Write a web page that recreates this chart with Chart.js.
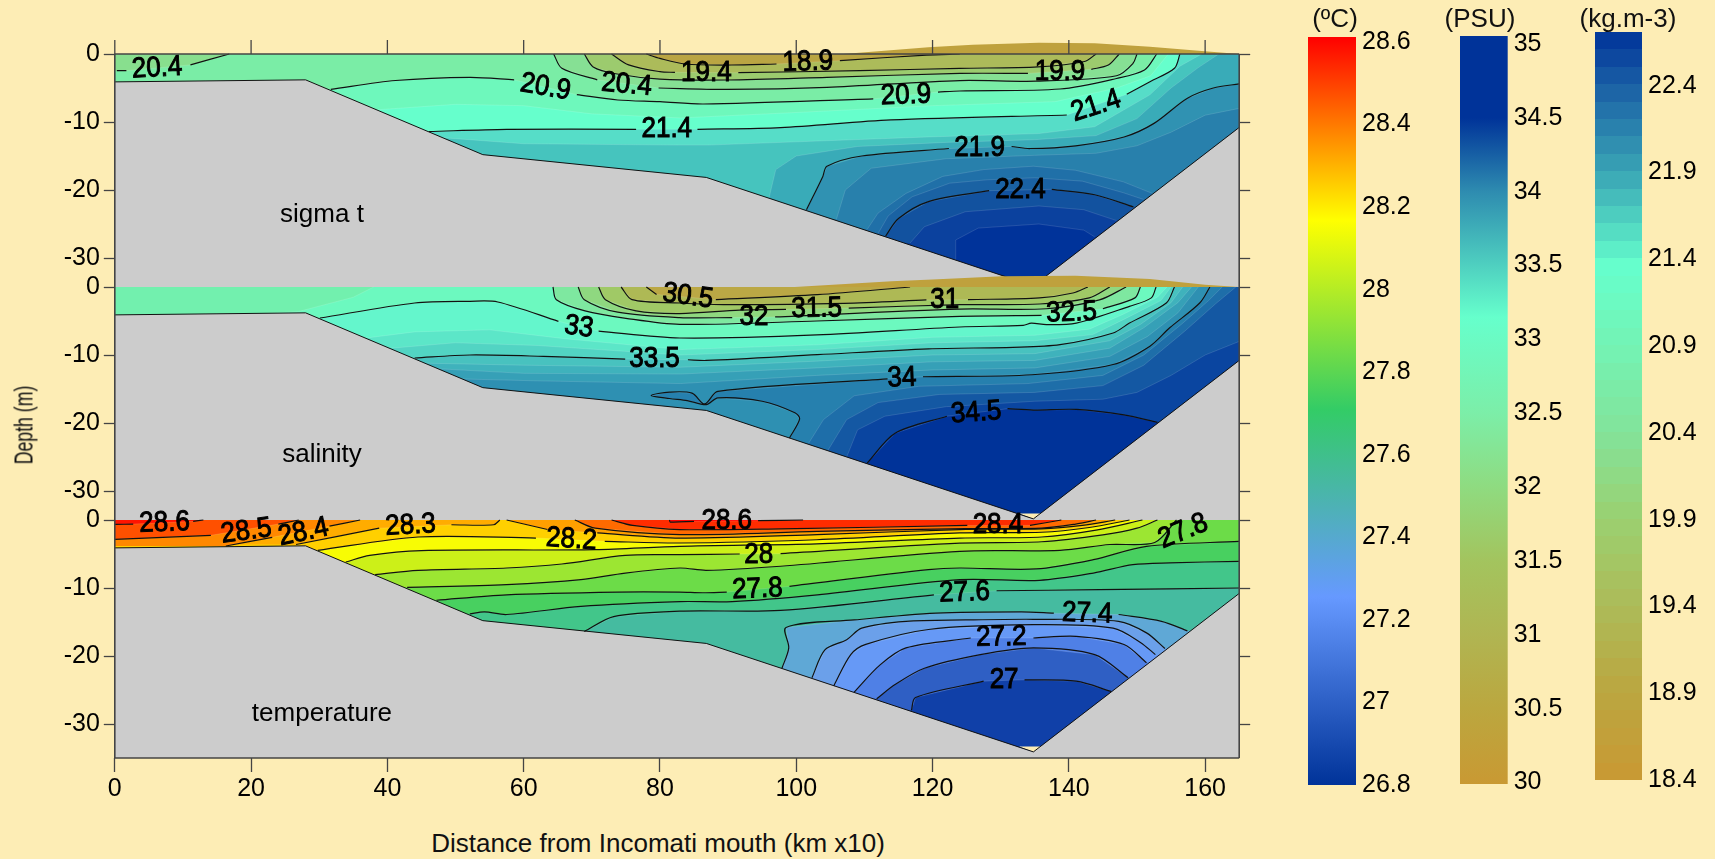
<!DOCTYPE html>
<html>
<head>
<meta charset="utf-8">
<title>Incomati transect</title>
<script src="https://cdn.jsdelivr.net/npm/chart.js@4"></script>
<style>
  html, body { margin: 0; padding: 0; background: #FDEDB5; overflow: hidden; }
  #page { position: relative; width: 1715px; height: 859px; font-family: "Liberation Sans", Arial, sans-serif; color: #111; }
  canvas { position: absolute; left: 0; }
  .note { position: absolute; font-size: 26px; white-space: nowrap; transform: translate(-50%, -50%); }
</style>
</head>
<body>
<div id="page">
  <canvas id="sigmaPanel" width="1270" height="252" style="top:40px"></canvas>
  <canvas id="salPanel" width="1270" height="252" style="top:273px"></canvas>
  <canvas id="tempPanel" width="1270" height="320" style="top:506px"></canvas>
  <canvas id="tempBar" width="130" height="800" style="left:1308px;top:10px"></canvas>
  <canvas id="salBar" width="130" height="800" style="left:1460px;top:10px"></canvas>
  <canvas id="sigmaBar" width="130" height="800" style="left:1595px;top:10px"></canvas>
  <div class="note" style="left:1335px;top:18px">(ºC)</div>
  <div class="note" style="left:1480px;top:18px">(PSU)</div>
  <div class="note" style="left:1628px;top:18px">(kg.m-3)</div>
  <div class="note" style="left:24px;top:425px;transform:translate(-50%,-50%) rotate(-90deg) scaleX(.68)">Depth (m)</div>
  <div class="note" style="left:658px;top:843px">Distance from Incomati mouth (km x10)</div>
</div>
<script>
'use strict';

/* ============================================================
   AXES
   ============================================================ */
const xTicks = [0, 20, 40, 60, 80, 100, 120, 140, 160];
const depthTicks = [0, -10, -20, -30];
const tempBarTicks = [26.8, 27, 27.2, 27.4, 27.6, 27.8, 28, 28.2, 28.4, 28.6];
const salBarTicks = [30, 30.5, 31, 31.5, 32, 32.5, 33, 33.5, 34, 34.5, 35];
const sigmaBarTicks = [18.4, 18.9, 19.4, 19.9, 20.4, 20.9, 21.4, 21.9, 22.4];

/* sea bed, same for the three sections: [distance, depth] */
const seabed = [[0, -4.1], [28, -3.8], [54, -14.8], [86.8, -18.15], [134.8, -34.1], [165, -10.8]];
const voidTip = [[132.7, -33.3], [136, -33.3], [134.8, -34.1]];

/* ============================================================
   SIGMA T  -  isolines as [distance, depth], null = label gap
   ============================================================ */
const sig189 = [[78, 0], [80, -0.65], [83.7, -1.47], [90.5, -1.62], [97.1, -1.47], null, [106.4, -0.98], [119.1, -0.15], [124, 0]];
const sig194 = [[72.9, 0], [75.4, -1.6], [80, -2.6], [82.2, -2.7], null, [91.5, -2.75], [109.3, -2.45], [124, -2.1], [135.5, -1.9], [142.3, -1.1], [144, 0]];
const sig199 = [[68.9, 0], [70.2, -1.9], [73.5, -2.9], [80, -3.68], [89.8, -3.82], [104.5, -3.43], [124, -2.85], [134, -2.85], null, [143.3, -2.25], [145.8, -1.63], [147.4, 0]];
const sig204 = [[64.4, 0], [65.6, -2.1], [70.8, -3.8], null, [79.8, -5], [89.8, -5.2], [104.5, -4.9], [124, -3.9], [135.2, -4], [147, -3.2], [149.4, -1.4], [150, 0]];
const sig204Left = [[0.3, -2.45], [1.7, -2.45], null, [11.1, -1.6], [16.8, 0]];
const sig209 = [[31.7, -5.2], [41.2, -3.9], [52.1, -3.43], [58.6, -3.8], null, [67.8, -5.98], [73.8, -6.76], [80, -7], [86.4, -7.35], [111.3, -6.6], null, [120.8, -5.6], [124, -5.44], [138.7, -5.15], [147, -3.6], [151.1, -2.35], [152.9, 0]];
const sig214 = [[46.1, -11.4], [57.5, -11.08], [76.5, -11.08], null, [85.5, -11.08], [97.7, -10.83], [113.9, -9.7], [139.7, -8.97], null, [148.5, -5.93], [151.9, -4.07], [155.5, -2.1], [156.3, 0]];
const sig219 = [[101.5, -22.9], [103.9, -18], [104.5, -16.5], [109.6, -15], [122.4, -13.9], null, [131.6, -13.6], [134.3, -13.9], [141, -13.5], [148.1, -12.2], [152.5, -10.2], [157.4, -6.5], [161.2, -5], [165, -4.4]];
const sig224 = [[113.1, -26.8], [115, -24.2], [119.4, -21.7], [128.3, -20.1], null, [137.5, -19.9], [143.8, -20.7], [149.5, -22.5]];
/* band edges without a black line */
const sig2115 = [[38.5, -8.2], [50, -7.4], [60, -7.6], [70, -8.8], [83, -9.4], [100, -8.6], [120, -7.6], [138, -7], [147, -5], [152, -3.2], [154.6, 0]];
const sig2165 = [[48, -12.3], [60, -13.2], [82.9, -13.4], [87, -13.4], [119.4, -12.2], [135.6, -11.7], [143.8, -10.7], [151.9, -6], [156.3, -1.8], [159.5, 0]];
const sig2178 = [[96, -21.2], [97, -17], [100, -15], [109, -13.6], [122, -13], [135, -12.6], [144, -12], [150, -9.5], [155, -5], [159, -2], [162, 0]];
const sig2202 = [[105.9, -24.3], [107.2, -20], [111, -16.8], [122, -15.4], [135, -14.9], [144, -14.6], [150, -13.5], [155, -11.5], [160, -9], [165, -8]];
const sig2215 = [[110.4, -25.8], [112, -23.4], [116.1, -20.5], [121.5, -18], [127.5, -17], [134.8, -16.5], [141, -17.1], [148, -18.8], [152.5, -20.6]];
const sig2227 = [[112, -26.4], [113.5, -23.8], [117, -21], [122.5, -19], [128, -18.5], [135, -18.2], [142, -18.7], [148, -20.4], [151, -21.4]];
const sig2265 = [[116.7, -27.8], [118.8, -25.4], [124.8, -23.2], [135.6, -22.35], [142.2, -22.9], [147, -24.5]];
const sig229 = [[123.3, -30.3], [123.4, -27.35], [126.7, -25.6], [135.6, -25], [142.2, -25.9], [143.8, -26.9]];
const sigHump = [[106.9, 0], [119.4, 1], [125.9, 1.37], [135.6, 1.67], [143.8, 1.57], [151.9, 1.08], [159.5, 0.44], [165, 0]];
const sigLabels = [
  ['20.4', 6.2, -2.1, -3], ['20.9', 63.2, -4.9, 10], ['20.4', 75.1, -4.55, 5], ['19.4', 86.8, -2.85, 0],
  ['18.9', 101.7, -1.2, -2], ['19.9', 138.7, -2.6, 0], ['20.9', 116.1, -6.1, -2], ['21.4', 81, -11.1, 0],
  ['21.4', 144, -7.65, -18], ['21.9', 126.9, -13.9, 0], ['22.4', 132.9, -20, 0]
];

/* ============================================================
   SALINITY
   ============================================================ */
const sal305 = [[78, 0], [79.5, -1.1], null, [88.2, -1.86], [103.1, -1.13], [116.7, 0]];
const sal31 = [[74.3, 0], [75.9, -1.86], [82.9, -2.35], [90, -2.6], [107, -2.4], [119.1, -1.9], null, [125.2, -1.86], [135.7, -1.6], [140.6, -0.88], [142.8, 0]];
const sal315 = [[71, 0], [72, -1.86], [76.5, -3.5], [82.9, -3.9], [91.7, -3.4], [98.5, -3.3], null, [107.7, -3.1], [124, -2.6], [135.7, -2.5], [143, -1.6], [146, 0]];
const sal32 = [[68, 0], [68.9, -1.86], [73.8, -3.7], [82.9, -4.5], [90.6, -4.5], null, [96.9, -4.4], [124, -3.25], [136.7, -3.2], [144.5, -1.9], [148.4, 0]];
const sal325 = [[64.3, 0], [64.8, -1.86], [69, -3.5], [75, -4.6], [82.9, -5.5], [103, -5], [124, -4.31], [136, -4.17], null, [145, -3.2], [149.7, -1.6], [150.5, 0]];
const sal33 = [[30.1, -4.56], [44, -2.35], [52.1, -2.1], [56.2, -2.2], [65.1, -5.05], null, [71, -6.5], [82.9, -7.5], [103, -7.05], [124, -5.88], [133.3, -5.64], [134.5, -5.3], [136.7, -5.54], [141.1, -5.3], [148.9, -2.84], [152.1, -1.6], [152.8, 0]];
const sal335 = [[44, -10.44], [52.1, -10], [62.9, -10.2], [74.9, -10.6], null, [84.1, -10.7], [86.8, -10.8], [103.1, -9.95], [119.4, -9.1], [131.8, -8.87], [138.7, -8.48], [146.5, -6.76], [148.9, -5.3], [154.3, -2.35], [155.5, 0]];
const sal34 = [[99, -22.2], [100.5, -19.4], [99.8, -18.5], [95, -16.8], [88.5, -16.3], [86.8, -17.3], [84, -16.7], [81.4, -16.4], [78.7, -15.95], [81.4, -15.45], [84.7, -15.6], [86.55, -17.2], [88.5, -15.34], [113.4, -13.5], null, [118.6, -13.2], [134.6, -12.9], [146.5, -11.4], [151.9, -8.7], [154.8, -6], [159.2, -2.35], [160.7, 0]];
const sal345 = [[110.4, -25.9], [114.5, -21.5], [122.1, -19], null, [131, -17.9], [134.8, -18.1], [141.1, -18], [148.1, -18.8], [153, -19.9]];
/* band edges without a black line */
const sal3275 = [[5, -4.1], [15, -4.3], [27, -3.6], [35, -1.5], [38, 0]];
const sal3325 = [[36.9, -7.5], [44, -6.6], [55, -6.3], [66, -7.6], [83, -9.2], [103, -8.5], [120, -7.4], [135, -7.1], [143, -6.2], [148, -4], [153, -1.5], [154.4, 0]];
const sal3337 = [[40.5, -9], [50, -8.2], [62, -8.6], [83, -10], [103, -9.2], [120, -8.2], [135, -7.9], [143.5, -7], [148, -4.8], [153.5, -2], [155, 0]];
const sal3362 = [[45.5, -11.2], [60, -11.5], [83, -11.8], [103, -10.9], [120, -10], [135, -9.8], [146, -7.9], [150.5, -5.5], [155, -2.3], [156.7, 0]];
const sal3375 = [[47, -12], [60, -12.7], [83, -12.8], [103, -11.9], [120, -11], [135, -10.8], [146, -9], [151, -6], [156, -2.3], [158, 0]];
const sal3387 = [[50, -13.5], [62, -13.8], [83, -14.2], [103, -13], [120, -12.2], [135, -11.9], [146, -10.2], [151.5, -7.3], [156, -3.8], [159, 0]];
const sal3412 = [[101.8, -23], [104, -19.5], [108.5, -16], [118, -14.6], [134, -14.2], [145, -13], [151, -10], [156.5, -5.5], [160.5, -2], [162.5, 0]];
const sal3425 = [[104.6, -24.1], [107.4, -19.5], [112, -17], [121, -15.8], [135, -15.5], [145, -14.5], [151, -11.5], [157, -6.5], [161.5, -2.5], [164.5, 0]];
const sal3437 = [[107.4, -25], [109, -21], [113, -19], [122, -17.6], [135, -16.8], [145, -16.5], [150, -15.5], [155, -13], [160, -10], [165, -8]];
const salHump = [[99.8, 0], [114, 0.83], [120, 1.1], [130.2, 1.57], [141, 1.67], [151.9, 1.18], [160, 0.34], [165, 0]];
const salLabels = [
  ['33', 68.1, -5.9, 8], ['33.5', 79.2, -10.6, 0], ['30.5', 84.1, -1.4, 8], ['32', 93.8, -4.46, 0],
  ['31.5', 103, -3.2, -1], ['31', 121.8, -1.9, 0], ['32.5', 140.4, -3.8, -2], ['34', 115.5, -13.4, -2], ['34.5', 126.4, -18.5, -4]
];

/* ============================================================
   TEMPERATURE
   ============================================================ */
const temp286Left = [[0, -0.65], [2.7, -0.6], null, [11.5, -0.2], [13, 0]];
const temp285Left = [[0, -2.84], [14.1, -2.25], null, [24, -0.6], [27, 0]];
const temp284Left = [[16.3, -3.82], [23.1, -2.55], null, [31.5, -0.9], [36, 0]];
const temp283Left = [[26.6, -3.6], [38.8, -1.2], null, [49.4, -0.7], [55.6, -0.7], [56.5, 0]];
const temp286 = [[81.4, 0], [81.5, -0.3], [85, -0.2], null, [94.4, -0.1], [101, 0]];
const temp285 = [[72.9, 0], [76, -0.8], [82.9, -1.4], [97.7, -1.3], [125.1, -0.8], null, [134.3, -0.8], [138.9, 0]];
const temp284 = [[67.5, 0], [70.5, -1.2], [82.9, -2.15], [103.1, -1.67], [124.8, -1.27], [136, -1.2], [141, -0.6], [144, 0]];
const temp283 = [[57.5, 0], [63.5, -1.4], null, [70.8, -1.9], [82.9, -2.65], [103.1, -2.15], [124, -1.4], [136, -1.3], [142, -0.8], [146.8, 0]];
const temp282 = [[29.8, -4.46], [44.5, -2.5], [61.8, -2.65], null, [71.9, -3.14], [82.9, -3.38], [103, -2.9], [124, -1.9], [136, -1.8], [143, -1.1], [148.9, 0]];
const temp281 = [[33.9, -6.18], [37.4, -5.2], [45, -4.5], [70.5, -4.36], [82.9, -3.87], [103, -3.5], [124, -2.65], [136, -2.5], [144, -1.5], [150.8, 0]];
const temp280 = [[38.2, -8.04], [44.5, -7.4], [57.5, -7.06], [65.6, -6.47], [74.9, -5.2], [82.9, -5.1], [91.7, -5], null, [97.7, -4.95], [124, -3.4], [136, -3.2], [145, -2.2], [150, -1.2], [153, 0]];
const temp279 = [[42.9, -9.9], [57.5, -9.5], [68.4, -8.77], [74.9, -7.8], [82.9, -7.06], [86.8, -7.4], [97.7, -6.8], [124, -4.6], [138.7, -4.46], [146, -3.6], [152.6, -3.3], [155.8, 0]];
const temp278 = [[47.2, -11.8], [57.5, -11], [73.8, -10.6], [82.9, -10.6], [86.3, -10.7], [89.8, -10.6], null, [99, -9.75], [119.4, -7.3], [124, -7.06], [135.2, -7.2], [143.6, -5.83], [151.4, -3.87], [165, -3.14]];
const temp277 = [[52.1, -13.8], [54.25, -13.5], [57.5, -13.9], [68.4, -12.7], [82.9, -12], [90.6, -12], [103.1, -11], [124, -8.77], [135.7, -8.87], [143.6, -7.8], [149.4, -6.57], [154.8, -6.3], [165, -6.08]];
const temp276 = [[68.9, -16.4], [73.2, -14.2], [82.9, -13.4], [97.7, -13.3], [120.2, -11], null, [129.4, -10.4], [144.5, -10.25], [165, -10]];
const temp275 = [[97.9, -21.8], [98.9, -18.8], [98.5, -15.8], [108.5, -14.7], [120.5, -13.7], [133, -13.5], [137.8, -13.7], null, [147.3, -13.9], [153.6, -14.9], [157.4, -16.3]];
const temp274 = [[102.3, -23.2], [104.2, -19.1], [107.4, -17.6], [109.6, -15.9], [116.1, -14.9], [124.8, -14.7], [134.8, -14.6], [147.3, -14.9], [151.4, -16.6], [154.1, -18.9]];
const temp273 = [[105.5, -24.4], [108, -19.8], [110.2, -18.3], [119.4, -16.1], [134.8, -15.4], [146.5, -15.9], [150.5, -18], [152.7, -19.8]];
const temp272 = [[108.5, -25.3], [112.3, -21.3], [116.1, -18.8], [125.6, -17.35], null, [134.8, -17.35], [141.1, -17.1], [148.1, -18.3], [151.4, -21]];
const temp271 = [[111.8, -26.3], [114.5, -24.2], [118.8, -21.8], [127, -19.8], [134.8, -18.8], [143.8, -19.8], [148.7, -23.2]];
const temp270 = [[116.9, -28], [117.5, -26.1], [127.5, -23.7], null, [133.5, -23.5], [141.1, -23.7], [146.2, -25.2]];
const tempLabels = [
  ['28.6', 7.3, -0.45, -2], ['28.5', 19.3, -1.67, -8], ['28.4', 27.7, -1.8, -12], ['28.3', 43.4, -0.8, -3],
  ['28.2', 67, -2.9, 4], ['28.6', 89.8, -0.1, 0], ['28.4', 129.6, -0.8, 0], ['28', 94.5, -5.1, 0],
  ['27.8', 94.3, -10.2, -2], ['27.6', 124.7, -10.7, -2], ['27.4', 142.7, -13.8, 2], ['27.2', 130.1, -17.25, -1],
  ['27', 130.5, -23.6, 0], ['27.8', 156.8, -1.67, -22]
];

/* ============================================================
   COLOURS  -  painted from the bottom of the section upward
   ============================================================ */
const sigmaFills = [sig229, sig2265, sig224, sig2227, sig2215, sig2202, sig219, sig2178, sig2165, sig214, sig2115, sig209, sig204, sig204Left, sig199, sig194, sig189];
const sigmaColours = ['#0B419E', '#12529F', '#1A62A3', '#2070A8', '#2880AC', '#3092B2', '#39ABB8', '#46C4BE', '#56DDC8', '#66FFCC', '#6EF8BC', '#7AEDA6', '#86E094', '#88DF8E', '#9CCB6E', '#ACBB5A', '#BAA543'];
const sigmaBase = '#00339A';

const salFills = [sal345, sal3437, sal3425, sal3412, sal34, sal3387, sal3375, sal3362, sal335, sal3337, sal3325, sal33, sal3275, sal325, sal32, sal315, sal31, sal305];
const salColours = ['#0A45A0', '#1458A3', '#1E6EA9', '#2680AE', '#2E90B2', '#36A0B7', '#3FB2BC', '#48C2BF', '#52D4C3', '#5CE6C8', '#64F6CC', '#6CF9BF', '#72F0AE', '#7EE8A0', '#8FD880', '#A0C966', '#AEB955', '#BBA845'];
const salBase = '#003399';

const tempFills = [temp270, temp271, temp272, temp273, temp274, temp275, temp276, temp277, temp278, temp279, temp280, temp281, temp282, temp283Left, temp284Left, temp285Left, temp286Left, temp283, temp284, temp285, temp286];
const tempColours = ['#2F5FC4', '#4F80E6', '#6699F6', '#6BA0EA', '#5FA8D6', '#45BBA0', '#42C68A', '#48D060', '#6CDC48', '#9CE632', '#CCF018', '#F8FC04', '#FFD000', '#FFAC00', '#FF8800', '#FF5000', '#FF1400', '#FFA000', '#FF6A00', '#FF2C00', '#FF0000'];
const tempBase = '#1040A8';

const tempStops = [[26.8, '#003399'], [27.256, '#6699FF'], [27.71, '#33CC66'], [28.168, '#FFFF00'], [28.612, '#FF0000']];
const salStops = [[29.99, '#C99933'], [30.5, '#BBA73F'], [31, '#B0B552'], [31.5, '#A3C45E'], [32, '#8FDB80'], [32.5, '#7CEEA8'], [33.15, '#66FFCC'], [33.5, '#4FD0C0'], [34, '#2E8CB0'], [34.5, '#003399'], [35.054, '#003399']];
const sigmaStops = [[18.4, '#C99933'], [18.9, '#BBA640'], [19.4, '#ADBB58'], [19.9, '#9BD070'], [20.4, '#83E39A'], [20.9, '#74F3B4'], [21.35, '#66FFCC'], [21.9, '#3AA5B5'], [22.4, '#1A5FA5'], [22.709, '#003399']];

/* ============================================================
   HELPERS
   ============================================================ */
const AXIS_COLOUR = '#444';
const BAND_EDGE = 'rgba(255,255,255,0.16)';
const FONT = 'Liberation Sans';
const panelBox = [[0, 0], [165, 0], [165, -35], [0, -35]];

function toPoints(line) {
  return line.map(function (p) {
    return p ? { x: p[0], y: p[1] } : { x: 0, y: null };
  });
}

/* Close an isoline with everything that lies above it, up to the surface */
function aboveLine(line) {
  const p = line.filter(Boolean);
  return [[-5, p[0][1]]].concat(p, [[170, p[p.length - 1][1]], [170, 0], [-5, 0]]);
}

function shape(points, colour) {
  return { data: toPoints(points), fill: 'shape', backgroundColor: colour, borderWidth: 0, pointRadius: 0, tension: 0 };
}

function stroke(points, colour, width, tension) {
  return { data: toPoints(points), fill: false, borderColor: colour, borderWidth: width, pointRadius: 0, tension: tension };
}

/* Text written at data coordinates, optionally rotated and drawn heavier */
function textPlugin(items, font, heavy, stretch) {
  return {
    id: 'textOnScales',
    afterDatasetsDraw: function (chart) {
      const ctx = chart.ctx;
      items.forEach(function (it) {
        ctx.save();
        ctx.translate(chart.scales.x.getPixelForValue(it[1]), chart.scales.y.getPixelForValue(it[2]));
        ctx.rotate((it[3] || 0) * Math.PI / 180);
        ctx.scale(1, stretch);
        ctx.font = font;
        ctx.fillStyle = '#000';
        ctx.textAlign = 'center';
        ctx.textBaseline = 'middle';
        ctx.fillText(it[0], 0, 0);
        if (heavy) {
          ctx.strokeStyle = '#000';
          ctx.lineWidth = heavy;
          ctx.strokeText(it[0], 0, 0);
        }
        ctx.restore();
      });
    }
  };
}

function setTicks(values) {
  return function (scale) {
    scale.ticks = values.map(function (v) { return { value: v }; });
  };
}

/* Chart.js reserves room for half a tick label; the panels must not shrink for it */
function fixedSize(width, height) {
  return function (s) {
    if (width) s.width = width;
    if (height) s.height = height;
    s.paddingTop = s.paddingBottom = s.paddingLeft = s.paddingRight = 0;
  };
}

/* ============================================================
   SECTION PANELS
   ============================================================ */
function makePanel(id, cfg) {
  const sets = [shape(panelBox, cfg.base)];
  cfg.fills.forEach(function (line, i) {
    sets.push(shape(aboveLine(line), cfg.colours[i]));
    sets.push(stroke(line.filter(Boolean), BAND_EDGE, 0.8, 0));
  });
  sets.push(shape(seabed.concat([[165, -35], [0, -35]]), '#CCCCCC'));
  if (cfg.showVoid) sets.push(shape(voidTip, '#FDEDB5'));
  sets.push(stroke(seabed, '#111', 1, 0));
  cfg.lines.forEach(function (line) {
    sets.push(stroke(line, '#111', 1.2, 0.3));
  });
  if (cfg.hump) sets.push(shape(cfg.hump, '#BFA13D'));

  cfg.frame.forEach(function (seg) {
    const s = stroke(seg, AXIS_COLOUR, 1.6, 0);
    s.clip = false;
    sets.push(s);
  });

  if (cfg.topTicks) {
    sets.push({
      data: xTicks.map(function (v) { return { x: v, y: 1.03 }; }),
      showLine: false, clip: false,
      pointStyle: 'line', pointRotation: 90, pointRadius: 7,
      pointBorderColor: AXIS_COLOUR, pointBorderWidth: 1.3
    });
  }

  const tickFont = { family: FONT, size: 25 };
  new Chart(document.getElementById(id), {
    type: 'line',
    data: { datasets: sets.reverse() },
    plugins: [textPlugin(cfg.labels, '26px "' + FONT + '"', 0.9, 1.1), textPlugin(cfg.title, '26px "' + FONT + '"', 0, 1)],
    options: {
      responsive: false,
      animation: false,
      layout: { autoPadding: false, padding: 0 },
      plugins: { legend: { display: false }, tooltip: { enabled: false } },
      scales: {
        x: {
          type: 'linear', min: 0, max: 165,
          display: cfg.bottomAxis,
          afterBuildTicks: setTicks(xTicks),
          afterFit: fixedSize(0, cfg.bottomAxis ? 68 : 0),
          grid: { drawOnChartArea: false, tickLength: 14, tickColor: AXIS_COLOUR, tickWidth: 1.3 },
          border: { display: false },
          ticks: { color: '#000', font: tickFont, padding: 2, maxRotation: 0, autoSkip: false }
        },
        y: {
          min: -35, max: 2.06,
          afterBuildTicks: setTicks(depthTicks),
          afterFit: fixedSize(114.8, 0),
          grid: { drawOnChartArea: false, tickLength: 11, tickColor: AXIS_COLOUR, tickWidth: 1.3 },
          border: { display: false },
          ticks: { color: '#000', font: tickFont, padding: 4, autoSkip: false, callback: function (v) { return String(v); } }
        },
        yRight: {
          position: 'right', min: -35, max: 2.06,
          afterBuildTicks: setTicks(depthTicks),
          afterFit: fixedSize(30.8, 0),
          grid: { drawOnChartArea: false, tickLength: 11, tickColor: AXIS_COLOUR, tickWidth: 1.3 },
          border: { display: false },
          ticks: { display: false }
        }
      }
    }
  });
}

/* ============================================================
   COLOUR BARS
   ============================================================ */
function hexRgb(h) {
  return [parseInt(h.substr(1, 2), 16), parseInt(h.substr(3, 2), 16), parseInt(h.substr(5, 2), 16)];
}

function colourAt(stops, v) {
  for (let i = 1; i < stops.length; i++) {
    if (v <= stops[i][0]) {
      const t = (v - stops[i - 1][0]) / (stops[i][0] - stops[i - 1][0]);
      const a = hexRgb(stops[i - 1][1]);
      const b = hexRgb(stops[i][1]);
      return 'rgb(' + a.map(function (c, k) { return Math.round(c + (b[k] - c) * t); }).join(',') + ')';
    }
  }
  return stops[stops.length - 1][1];
}

function makeBar(id, ticks, stops, top, bottom, barWidth, step) {
  const lo = stops[0][0];
  const hi = stops[stops.length - 1][0];
  new Chart(document.getElementById(id), {
    type: 'bar',
    data: {
      labels: ['scale'],
      datasets: [{
        data: [[lo, hi]],
        barPercentage: 1,
        categoryPercentage: 1,
        backgroundColor: function (c) {
          const chart = c.chart;
          if (!chart.chartArea) return '#888';
          const pTop = chart.scales.y.getPixelForValue(hi);
          const pBot = chart.scales.y.getPixelForValue(lo);
          const g = chart.ctx.createLinearGradient(0, pBot, 0, pTop);
          if (step) {
            const n = Math.round((hi - lo) / step);
            for (let i = 0; i < n; i++) {
              const col = colourAt(stops, lo + (i + 0.5) * (hi - lo) / n);
              g.addColorStop(i / n, col);
              g.addColorStop((i + 1) / n, col);
            }
          } else {
            stops.forEach(function (s) { g.addColorStop((s[0] - lo) / (hi - lo), s[1]); });
          }
          return g;
        }
      }]
    },
    options: {
      responsive: false,
      animation: false,
      layout: { autoPadding: false, padding: { top: top - 10, bottom: 810 - bottom } },
      plugins: { legend: { display: false }, tooltip: { enabled: false } },
      scales: {
        x: { display: false },
        y: {
          position: 'right', min: lo, max: hi,
          afterBuildTicks: setTicks(ticks),
          afterFit: fixedSize(130 - barWidth, 0),
          grid: { display: false, drawTicks: false },
          border: { display: false },
          ticks: { color: '#000', font: { family: FONT, size: 25 }, padding: 6, autoSkip: false, callback: function (v) { return String(v); } }
        }
      }
    }
  });
}

/* ============================================================
   INIT
   ============================================================ */
makePanel('sigmaPanel', {
  base: sigmaBase, fills: sigmaFills, colours: sigmaColours,
  lines: [sig189, sig194, sig199, sig204, sig204Left, sig209, sig214, sig219, sig224],
  hump: sigHump, labels: sigLabels, title: [['sigma t', 30.4, -23.7, 0]],
  frame: [[[0, 0], [165, 0]], [[0, 0], [0, -35]], [[165, 0], [165, -35]]],
  topTicks: true, bottomAxis: false, showVoid: false
});
makePanel('salPanel', {
  base: salBase, fills: salFills, colours: salColours,
  lines: [sal305, sal31, sal315, sal32, sal325, sal33, sal335, sal34, sal345],
  hump: salHump, labels: salLabels, title: [['salinity', 30.4, -24.7, 0]],
  frame: [[[0, 0], [0, -35]], [[165, 0], [165, -35]]],
  topTicks: false, bottomAxis: false, showVoid: true
});
makePanel('tempPanel', {
  base: tempBase, fills: tempFills, colours: tempColours,
  lines: [temp286Left, temp285Left, temp284Left, temp283Left, temp286, temp285, temp284, temp283, temp282, temp281, temp280, temp279, temp278, temp277, temp276, temp275, temp274, temp273, temp272, temp271, temp270],
  hump: null, labels: tempLabels, title: [['temperature', 30.4, -28.5, 0]],
  frame: [[[0, 0], [0, -35]], [[165, 0], [165, -35]], [[0, -35], [165, -35]]],
  topTicks: false, bottomAxis: true, showVoid: true
});

makeBar('tempBar', tempBarTicks, tempStops, 37, 785, 48, 0);
makeBar('salBar', salBarTicks, salStops, 36, 784, 47.7, 0);
makeBar('sigmaBar', sigmaBarTicks, sigmaStops, 32, 780, 47, 0.1);
</script>
</body>
</html>
